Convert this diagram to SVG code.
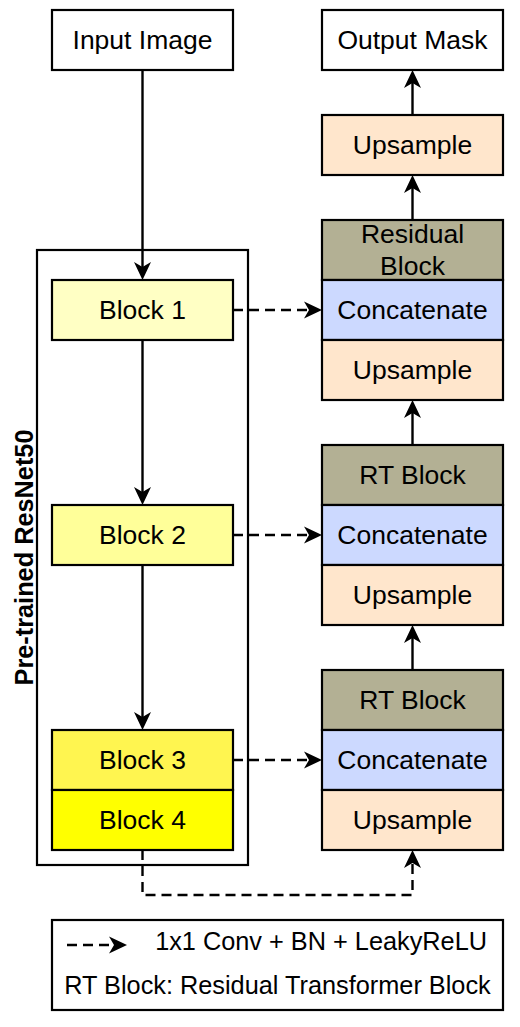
<svg xmlns="http://www.w3.org/2000/svg" width="520" height="1027" viewBox="0 0 520 1027">
<defs>
<style>
.box{stroke:#000;stroke-width:2.2}
.t{font-family:"Liberation Sans",Arial,sans-serif;font-size:26.5px;fill:#000;text-anchor:middle}
.lg{font-family:"Liberation Sans",Arial,sans-serif;font-size:25.3px;fill:#000}
.c{fill:none;stroke:#000;stroke-width:2.4}
.d{stroke-dasharray:10 6}
.up{fill:#FFE6CC}.cat{fill:#CCD9FF}.rt{fill:#B3B094}
</style>
<marker id="ah" markerUnits="userSpaceOnUse" viewBox="-12 -9 21 18" markerWidth="21" markerHeight="18" refX="0" refY="0" orient="auto" overflow="visible">
<path d="M8,0 L-10,-8.5 L-5,0 L-10,8.5 Z" fill="#000"/>
</marker>
</defs>
<rect width="520" height="1027" fill="#fff"/>
<g id="encoder">
<rect x="37" y="250" width="211" height="615" fill="#fff" class="box"/>
<text class="t" transform="translate(33,557.5) rotate(-90)" style="font-weight:bold;font-size:25.3px">Pre-trained ResNet50</text>
</g>
<g id="input"><rect x="52" y="10" width="181" height="60" fill="#fff" class="box"/><text class="t" x="142.5" y="49">Input Image</text></g>
<g id="output"><rect x="322" y="10" width="181" height="60" fill="#fff" class="box"/><text class="t" x="412.5" y="49">Output Mask</text></g>
<g id="block1"><rect x="52" y="280" width="181" height="60" fill="#FFFFC4" class="box"/><text class="t" x="142.5" y="319">Block 1</text></g>
<g id="block2"><rect x="52" y="505" width="181" height="60" fill="#FFFF99" class="box"/><text class="t" x="142.5" y="544">Block 2</text></g>
<g id="block3"><rect x="52" y="730" width="181" height="60" fill="#FFF550" class="box"/><text class="t" x="142.5" y="769">Block 3</text></g>
<g id="block4"><rect x="52" y="790" width="181" height="60" fill="#FFFF00" class="box"/><text class="t" x="142.5" y="829">Block 4</text></g>
<g id="upsample0"><rect x="322" y="115" width="181" height="60" class="box up"/><text class="t" x="412.5" y="154">Upsample</text></g>
<g id="residual"><rect x="322" y="220" width="181" height="60" class="box rt"/><text class="t" x="412.5" y="242.5">Residual</text><text class="t" x="412.5" y="274.5">Block</text></g>
<g id="concat1"><rect x="322" y="280" width="181" height="60" class="box cat"/><text class="t" x="412.5" y="319">Concatenate</text></g>
<g id="upsample1"><rect x="322" y="340" width="181" height="60" class="box up"/><text class="t" x="412.5" y="379">Upsample</text></g>
<g id="rt2"><rect x="322" y="445" width="181" height="60" class="box rt"/><text class="t" x="412.5" y="484">RT Block</text></g>
<g id="concat2"><rect x="322" y="505" width="181" height="60" class="box cat"/><text class="t" x="412.5" y="544">Concatenate</text></g>
<g id="upsample2"><rect x="322" y="565" width="181" height="60" class="box up"/><text class="t" x="412.5" y="604">Upsample</text></g>
<g id="rt3"><rect x="322" y="670" width="181" height="60" class="box rt"/><text class="t" x="412.5" y="709">RT Block</text></g>
<g id="concat3"><rect x="322" y="730" width="181" height="60" class="box cat"/><text class="t" x="412.5" y="769">Concatenate</text></g>
<g id="upsample3"><rect x="322" y="790" width="181" height="60" class="box up"/><text class="t" x="412.5" y="829">Upsample</text></g>
<g id="connectors">
<path class="c" d="M142.5,70 V272" marker-end="url(#ah)"/>
<path class="c" d="M142.5,340 V497" marker-end="url(#ah)"/>
<path class="c" d="M142.5,565 V722" marker-end="url(#ah)"/>
<path class="c" d="M412.5,670 V633" marker-end="url(#ah)"/>
<path class="c" d="M412.5,445 V408" marker-end="url(#ah)"/>
<path class="c" d="M412.5,220 V183" marker-end="url(#ah)"/>
<path class="c" d="M412.5,115 V78" marker-end="url(#ah)"/>
<path class="c d" d="M233,310 H314" marker-end="url(#ah)"/>
<path class="c d" d="M233,535 H314" marker-end="url(#ah)"/>
<path class="c d" d="M233,760 H314" marker-end="url(#ah)"/>
<path class="c d" d="M142.5,850 V895 H412.5 V858" marker-end="url(#ah)"/>
</g>
<g id="legend">
<rect x="52" y="920" width="451" height="90" fill="#fff" class="box"/>
<path class="c d" d="M67,945 H119" marker-end="url(#ah)"/>
<text class="lg" x="487" y="950" text-anchor="end">1x1 Conv + BN + LeakyReLU</text>
<text class="lg" x="277.5" y="994" text-anchor="middle">RT Block: Residual Transformer Block</text>
</g>
</svg>
